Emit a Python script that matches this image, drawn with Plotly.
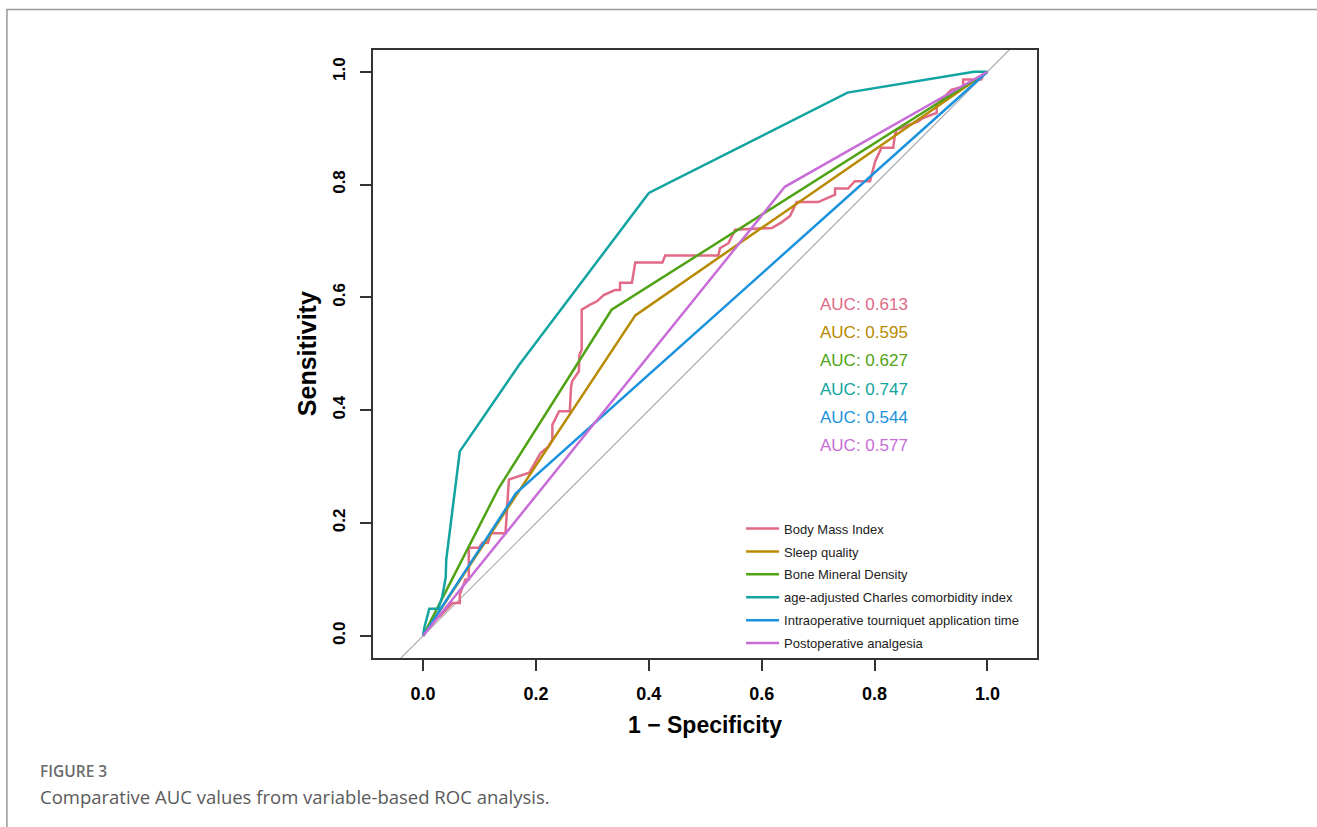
import plotly.graph_objects as go

# ---- data ----
series_names = [
    "Body Mass Index",
    "Sleep quality",
    "Bone Mineral Density",
    "age-adjusted Charles comorbidity index",
    "Intraoperative tourniquet application time",
    "Postoperative analgesia",
]
series_colors = ["#E16A86", "#B88A00", "#50A315", "#12A4A0", "#1B92DE", "#C86DD7"]
auc_labels = ["AUC: 0.613", "AUC: 0.595", "AUC: 0.627", "AUC: 0.747", "AUC: 0.544", "AUC: 0.577"]
auc_label_y = [0.588, 0.538, 0.488, 0.437, 0.387, 0.337]
auc_label_x = 0.70

bmi_fpr = [0, 0.015, 0.03, 0.052, 0.065, 0.065, 0.075, 0.081, 0.081, 0.099,
           0.105, 0.115, 0.12, 0.146, 0.152, 0.188, 0.208, 0.222, 0.229, 0.229,
           0.241, 0.260, 0.262, 0.264, 0.276, 0.277, 0.281, 0.281, 0.296, 0.308,
           0.320, 0.340, 0.349, 0.349, 0.370, 0.376, 0.424, 0.429, 0.523, 0.526,
           0.541, 0.553, 0.618, 0.635, 0.650, 0.662, 0.700, 0.730, 0.730, 0.753,
           0.765, 0.792, 0.801, 0.812, 0.833, 0.836, 0.839, 0.877, 0.886, 0.910,
           0.910, 0.936, 0.957, 0.957, 0.989, 0.993, 1.0]
bmi_tpr = [0, 0.025, 0.035, 0.058, 0.058, 0.073, 0.100, 0.100, 0.156, 0.156,
           0.165, 0.165, 0.182, 0.182, 0.277, 0.289, 0.324, 0.335, 0.348, 0.374,
           0.398, 0.398, 0.440, 0.451, 0.469, 0.498, 0.507, 0.578, 0.587, 0.593,
           0.604, 0.613, 0.613, 0.626, 0.626, 0.662, 0.662, 0.674, 0.674, 0.687,
           0.696, 0.720, 0.723, 0.733, 0.744, 0.769, 0.769, 0.782, 0.793, 0.793,
           0.806, 0.806, 0.841, 0.865, 0.865, 0.888, 0.897, 0.912, 0.918, 0.927,
           0.942, 0.968, 0.974, 0.986, 0.986, 0.995, 1.0]

sleep_fpr = [0, 0.376, 1.0]
sleep_tpr = [0, 0.568, 1.0]

bmd_fpr = [0, 0.134, 0.334, 1.0]
bmd_tpr = [0, 0.262, 0.578, 1.0]

cci_fpr = [0, 0.002, 0.011, 0.027, 0.034, 0.040, 0.041, 0.065, 0.170, 0.400, 0.752, 0.976, 1.0]
cci_tpr = [0, 0.014, 0.048, 0.048, 0.070, 0.103, 0.135, 0.327, 0.480, 0.785, 0.963, 1.0, 1.0]

tq_fpr = [0, 0.164, 1.0]
tq_tpr = [0, 0.252, 1.0]

anal_fpr = [0, 0.641, 1.0]
anal_tpr = [0, 0.796, 1.0]

tick_vals = [0.0, 0.2, 0.4, 0.6, 0.8, 1.0]
tick_text = ["0.0", "0.2", "0.4", "0.6", "0.8", "1.0"]
diag_x = [-0.2, 1.2]

x_title = "1 \u2212 Specificity"
y_title = "Sensitivity"
fig_label = "FIGURE 3"
fig_caption = "Comparative AUC values from variable-based ROC analysis."

curves_x = [bmi_fpr, sleep_fpr, bmd_fpr, cci_fpr, tq_fpr, anal_fpr]
curves_y = [bmi_tpr, sleep_tpr, bmd_tpr, cci_tpr, tq_tpr, anal_tpr]

# ---- figure ----
W, H = 1317, 827
L, R, T, B = 372.5, 279.7, 50, 168.5
PW, PH = W - L - R, H - T - B
FONT = "Liberation Sans, Arial, Helvetica, sans-serif"

def px_to_paper_x(px):
    return (px - L) / PW

def py_to_paper_y(py):
    return 1 - (py - T) / PH

fig = go.Figure()

fig.add_trace(go.Scatter(x=diag_x, y=diag_x, mode="lines",
                         line=dict(color="#AAAAAA", width=1.2), showlegend=False,
                         hoverinfo="skip"))

for i, (name, col, xs, ys) in enumerate(zip(series_names, series_colors, curves_x, curves_y)):
    fig.add_trace(go.Scatter(x=xs, y=ys, mode="lines", name=name, legendgroup=f"g{i}",
                             line=dict(color=col, width=2.5)))

annotations = []
for txt, col, yy in zip(auc_labels, series_colors, auc_label_y):
    annotations.append(dict(x=auc_label_x, y=yy, xref="x", yref="y", text=txt,
                            showarrow=False, xanchor="left", yanchor="middle",
                            font=dict(family=FONT, size=17, color=col)))

annotations.append(dict(x=0.5, y=0, xref="paper", yref="paper", text=x_title,
                        showarrow=False, xanchor="center", yanchor="middle",
                        yshift=-(725 - (T + PH)),
                        font=dict(family=FONT, size=23, color="#000000", weight="bold")))
annotations.append(dict(x=0, y=0.5, xref="paper", yref="paper", text=y_title,
                        showarrow=False, xanchor="center", yanchor="middle",
                        textangle=-90, xshift=306.7 - L,
                        font=dict(family=FONT, size=25, color="#000000", weight="bold")))

annotations.append(dict(x=px_to_paper_x(37), y=py_to_paper_y(772), xref="paper", yref="paper",
                        text=fig_label, showarrow=False, xanchor="left", yanchor="middle",
                        font=dict(family="Open Sans, sans-serif", size=15.5, color="#6a6a6a",
                                  weight=600)))
annotations.append(dict(x=px_to_paper_x(37), y=py_to_paper_y(797), xref="paper", yref="paper",
                        text=fig_caption, showarrow=False, xanchor="left", yanchor="middle",
                        font=dict(family="Open Sans, sans-serif", size=18.5, color="#5a5a5a")))

shapes = [dict(type="rect", xref="paper", yref="paper",
               x0=px_to_paper_x(6), x1=px_to_paper_x(1340),
               y0=py_to_paper_y(850), y1=py_to_paper_y(9.5),
               line=dict(color="#999999", width=1.5), fillcolor="rgba(0,0,0,0)",
               layer="below")]

fig.update_layout(
    width=W, height=H,
    margin=dict(l=L, r=R, t=T, b=B, autoexpand=False),
    paper_bgcolor="white", plot_bgcolor="white",
    showlegend=True,
    legend=dict(x=px_to_paper_x(741), y=py_to_paper_y(514), xanchor="left", yanchor="top",
                bgcolor="rgba(255,255,255,0)", font=dict(family=FONT, size=13, color="#222222"),
                itemwidth=33, tracegroupgap=3),
    annotations=annotations,
    shapes=shapes,
)

fig.update_xaxes(range=[-0.0888, 1.0878], tickvals=tick_vals, ticktext=tick_text,
                 ticks="outside", ticklen=11, tickwidth=1.5, tickcolor="#333333",
                 ticklabelstandoff=8,
                 showline=True, mirror=True, linecolor="#333333", linewidth=1.5,
                 showgrid=False, zeroline=False,
                 tickfont=dict(family=FONT, size=18, color="#000000", weight="bold"))
fig.update_yaxes(range=[-0.0393, 1.0385], tickvals=tick_vals, ticktext=tick_text,
                 ticks="outside", ticklen=11, tickwidth=1.5, tickcolor="#333333",
                 ticklabelstandoff=8,
                 showline=True, mirror=True, linecolor="#333333", linewidth=1.5,
                 showgrid=False, zeroline=False, tickangle=-90,
                 tickfont=dict(family=FONT, size=17, color="#000000", weight="bold"))

fig.write_html("out.html",
               config={"displayModeBar": False},
               post_script="document.body.style.margin='0px';document.body.style.overflow='hidden';")
